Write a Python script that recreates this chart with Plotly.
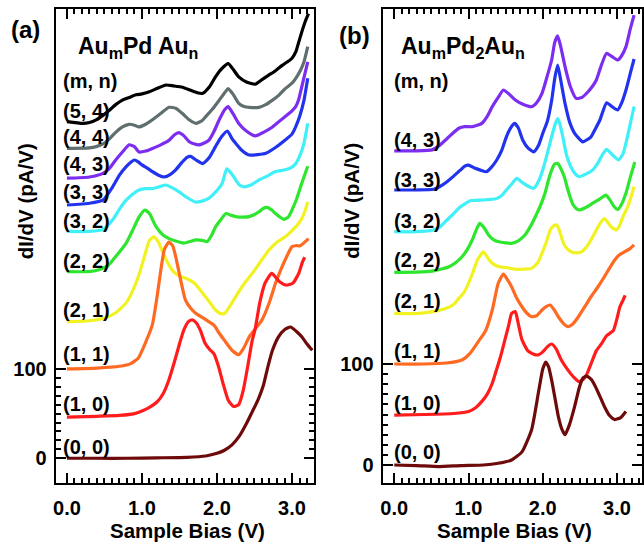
import plotly.graph_objects as go

W, H = 644, 544

# ---------------- Panel (a): Au_m Pd Au_n (stacked dI/dV spectra) ----------------
a_v_00 = [0, 0.4, 0.8, 1.2, 1.6, 1.85, 2.0, 2.1, 2.2, 2.3, 2.4, 2.47, 2.55, 2.62, 2.68, 2.74, 2.82, 2.9, 2.98, 3.06, 3.13, 3.2, 3.27]
a_y_00 = [0, 0, 0, 0.5, 1, 2.5, 5.5, 9, 15, 25, 40, 52, 66, 82, 103, 121, 136, 144, 147, 142, 136, 128, 121]

a_v_10 = [0, 0.4, 0.7, 0.9, 1.0, 1.1, 1.2, 1.28, 1.36, 1.44, 1.5, 1.56, 1.62, 1.67, 1.72, 1.78, 1.84, 1.9, 1.96, 2.02, 2.08, 2.15, 2.22, 2.29, 2.35, 2.41, 2.47, 2.51, 2.57, 2.64, 2.73, 2.83, 2.92, 3.01, 3.09, 3.14, 3.17]
a_y_10 = [46, 47, 48, 50, 53, 57, 63, 72, 88, 110, 128, 144, 153, 155, 152, 143, 129, 122, 117, 103, 84, 65, 58, 60, 76, 103, 132, 145, 174, 196, 207, 198, 194, 196, 207, 220, 225]

a_v_11 = [0, 0.4, 0.7, 0.85, 0.95, 1.05, 1.14, 1.2, 1.25, 1.3, 1.36, 1.41, 1.46, 1.52, 1.58, 1.65, 1.72, 1.8, 1.89, 1.96, 2.03, 2.1, 2.2, 2.29, 2.36, 2.43, 2.52, 2.6, 2.7, 2.78, 2.86, 2.93, 3.0, 3.05, 3.11, 3.17, 3.22]
a_y_11 = [100, 101, 103, 106, 112, 130, 150, 180, 210, 234, 242, 238, 222, 198, 177, 168, 162, 158, 153, 149, 140, 132, 121, 116, 124, 136, 146, 155, 175, 196, 213, 226, 237, 238, 238, 242, 246]

a_v_21 = [0, 0.3, 0.5, 0.65, 0.79, 0.9, 0.97, 1.04, 1.1, 1.16, 1.22, 1.28, 1.35, 1.42, 1.5, 1.6, 1.7, 1.8, 1.9, 1.98, 2.05, 2.1, 2.17, 2.25, 2.35, 2.47, 2.58, 2.69, 2.8, 2.91, 3.0, 3.06, 3.12, 3.17, 3.21]
a_y_21 = [153, 154, 157, 163, 174, 192, 208, 228, 244, 248, 242, 230, 218, 209, 204, 201, 196, 186, 175, 166, 162, 162, 170, 181, 194, 207, 220, 233, 242, 248, 255, 260, 267, 276, 287]

a_v_22 = [0, 0.3, 0.43, 0.55, 0.67, 0.79, 0.88, 0.96, 1.04, 1.1, 1.19, 1.28, 1.36, 1.46, 1.56, 1.65, 1.72, 1.8, 1.87, 1.93, 1.98, 2.05, 2.12, 2.19, 2.25, 2.34, 2.43, 2.5, 2.56, 2.62, 2.67, 2.73, 2.78, 2.84, 2.89, 2.95, 3.0, 3.06, 3.13, 3.18, 3.21]
a_y_22 = [209, 209, 211, 216, 228, 241, 256, 270, 278, 274, 259, 250, 246, 243, 241, 243, 244.5, 244, 242.6, 250, 259, 267, 274, 272, 270.6, 270, 270.6, 273, 276, 280, 281, 278, 274, 270, 267.6, 270, 278, 290, 308, 320, 327]

a_v_32 = [0, 0.3, 0.48, 0.61, 0.7, 0.79, 0.88, 0.96, 1.05, 1.14, 1.23, 1.32, 1.4, 1.49, 1.6, 1.71, 1.8, 1.89, 1.98, 2.07, 2.13, 2.2, 2.25, 2.3, 2.36, 2.45, 2.56, 2.67, 2.78, 2.91, 3.0, 3.05, 3.11, 3.16, 3.21]
a_y_32 = [254, 254, 256, 267, 279, 289, 296, 300.5, 302, 302, 304, 306, 303, 298.5, 292, 287, 288, 291, 298, 308, 324, 318, 311.6, 306, 304, 306, 311.6, 316, 321, 323, 326, 330, 340, 353, 375]

a_v_33 = [0, 0.3, 0.48, 0.61, 0.7, 0.79, 0.86, 0.9, 0.95, 1.0, 1.07, 1.14, 1.22, 1.3, 1.38, 1.45, 1.53, 1.6, 1.65, 1.72, 1.81, 1.9, 1.98, 2.06, 2.14, 2.2, 2.25, 2.33, 2.43, 2.54, 2.65, 2.78, 2.91, 3.0, 3.05, 3.11, 3.16, 3.21]
a_y_33 = [283.6, 285.6, 289, 304, 317, 326.5, 332, 334, 332, 328.5, 325, 321, 317, 315, 318, 323, 331, 337, 338, 334, 330, 337, 349, 360, 366.5, 358, 352.7, 345, 339.6, 340, 341.5, 348, 356.4, 363, 371.3, 385, 401, 425.5]

a_v_43 = [0, 0.3, 0.48, 0.57, 0.65, 0.74, 0.83, 0.9, 0.96, 1.05, 1.14, 1.25, 1.36, 1.43, 1.49, 1.56, 1.63, 1.7, 1.76, 1.83, 1.89, 1.96, 2.03, 2.1, 2.15, 2.22, 2.29, 2.4, 2.51, 2.62, 2.74, 2.84, 2.93, 3.0, 3.05, 3.09, 3.13, 3.17, 3.21]
a_y_43 = [313.6, 315, 319, 325, 334, 343, 351, 349, 343, 344, 347, 351, 356, 362, 364.6, 361, 354.5, 352, 351, 353, 356, 366, 379, 390, 393.7, 385, 375, 366, 361, 365, 371, 378, 384, 389, 393.7, 402, 416, 430, 444]

a_v_44 = [0, 0.3, 0.39, 0.48, 0.57, 0.65, 0.74, 0.83, 0.9, 0.96, 1.05, 1.14, 1.25, 1.36, 1.45, 1.54, 1.63, 1.72, 1.8, 1.85, 1.94, 2.03, 2.1, 2.15, 2.22, 2.29, 2.36, 2.43, 2.56, 2.65, 2.74, 2.83, 2.91, 3.0, 3.05, 3.11, 3.16, 3.21]
a_y_44 = [347, 347.5, 349, 352, 358, 365, 371, 374, 373, 371, 374, 379, 386, 393, 392, 386, 379, 375, 378, 382.5, 391, 401, 409, 414, 407, 397.5, 394, 393, 393, 396, 401, 407, 414, 420, 425.5, 434, 444, 461]

a_v_54 = [0, 0.21, 0.3, 0.39, 0.48, 0.57, 0.65, 0.74, 0.83, 0.92, 1.0, 1.1, 1.2, 1.32, 1.42, 1.54, 1.65, 1.75, 1.81, 1.9, 1.98, 2.06, 2.15, 2.22, 2.29, 2.4, 2.51, 2.6, 2.69, 2.78, 2.87, 2.94, 3.0, 3.05, 3.09, 3.14, 3.18, 3.22]
a_y_54 = [377, 375, 376, 379, 384, 390, 396, 401, 404, 407, 408, 410.5, 414, 418, 417, 415.5, 412, 409, 408.7, 416, 427, 436, 442, 435, 427, 421, 419, 424, 429, 434, 440, 444, 448, 455, 466, 480, 490, 498]

# ---------------- Panel (b): Au_m Pd2 Au_n ----------------
b_v_00 = [0, 0.3, 0.6, 0.9, 1.2, 1.4, 1.58, 1.72, 1.85, 1.94, 2.0, 2.04, 2.08, 2.12, 2.17, 2.21, 2.26, 2.3, 2.36, 2.43, 2.49, 2.54, 2.59, 2.65, 2.7, 2.77, 2.83, 2.9, 2.97, 3.05, 3.12]
b_y_00 = [0, -0.5, -1.5, -0.5, 0, 1.7, 5, 13, 35, 71, 95, 102, 97, 84, 64, 48, 35, 30, 40, 58, 76, 86, 88, 85, 79, 68, 58, 49, 45, 47, 53]

b_v_10 = [0, 0.4, 0.8, 1.0, 1.1, 1.18, 1.25, 1.32, 1.38, 1.43, 1.49, 1.54, 1.58, 1.63, 1.67, 1.72, 1.8, 1.87, 1.94, 2.0, 2.06, 2.12, 2.18, 2.25, 2.34, 2.43, 2.49, 2.55, 2.6, 2.66, 2.72, 2.79, 2.86, 2.95, 3.0, 3.04, 3.08, 3.11]
b_y_10 = [49.5, 50, 51, 53, 57, 63, 70, 81, 95, 107, 124, 138, 150, 152, 140, 124, 113, 110, 109, 112, 117, 119.8, 115, 104, 94, 86, 82.5, 85, 91, 102, 113, 120, 128, 133, 145, 157, 163, 168]

b_v_11 = [0, 0.4, 0.7, 0.91, 1.02, 1.13, 1.23, 1.32, 1.4, 1.47, 1.52, 1.58, 1.65, 1.72, 1.79, 1.85, 1.92, 1.99, 2.05, 2.1, 2.16, 2.21, 2.28, 2.34, 2.41, 2.48, 2.56, 2.65, 2.74, 2.83, 2.9, 2.97, 3.03, 3.1, 3.17, 3.23]
b_y_11 = [100, 100, 101, 104, 110.6, 122, 133, 153.5, 180, 189, 184, 176.5, 165, 156.7, 150, 146.8, 148, 153.5, 157, 158.4, 153, 146.8, 140, 137, 140, 146.8, 156, 166.6, 176, 186.4, 195, 203, 208, 211, 214, 218]

b_v_21 = [0, 0.3, 0.51, 0.69, 0.8, 0.87, 0.94, 1.0, 1.06, 1.12, 1.2, 1.26, 1.32, 1.38, 1.45, 1.55, 1.63, 1.75, 1.85, 1.93, 1.99, 2.05, 2.1, 2.15, 2.19, 2.23, 2.28, 2.33, 2.39, 2.46, 2.52, 2.58, 2.65, 2.71, 2.77, 2.83, 2.88, 2.92, 2.99, 3.04, 3.08, 3.14, 3.19, 3.23]
b_y_21 = [150, 150, 151.8, 155, 159, 165, 171, 180, 191, 203, 211, 205, 199.7, 197, 196, 195, 193.7, 194, 194.7, 200, 209.6, 221, 232.7, 237, 237.6, 231, 219.5, 214, 211, 210, 211, 215, 222.8, 231, 239, 244, 240, 236, 232.7, 238, 245.8, 255, 265.6, 275.5]

b_v_22 = [0, 0.3, 0.51, 0.73, 0.82, 0.91, 0.98, 1.05, 1.1, 1.15, 1.21, 1.27, 1.34, 1.41, 1.5, 1.58, 1.67, 1.76, 1.84, 1.9, 1.97, 2.03, 2.08, 2.12, 2.16, 2.2, 2.24, 2.29, 2.34, 2.4, 2.45, 2.49, 2.58, 2.67, 2.76, 2.85, 2.9, 2.96, 3.01, 3.06, 3.12, 3.18, 3.24]
b_y_22 = [190.8, 191, 192, 196, 200, 206, 213, 222.8, 232, 239.3, 235, 227.7, 223, 221, 220, 219.5, 222, 227.7, 237, 245.8, 257, 269, 283, 292, 298, 298.7, 294, 285.4, 272, 259, 254, 252.5, 255, 259, 263, 267.3, 263, 256, 253, 258, 269, 285, 300]

b_v_32 = [0, 0.3, 0.53, 0.62, 0.71, 0.8, 0.89, 0.96, 1.02, 1.1, 1.2, 1.3, 1.38, 1.45, 1.51, 1.58, 1.65, 1.72, 1.78, 1.88, 1.95, 2.0, 2.06, 2.12, 2.17, 2.2, 2.23, 2.27, 2.32, 2.38, 2.44, 2.49, 2.58, 2.67, 2.75, 2.81, 2.86, 2.94, 3.02, 3.08, 3.12, 3.19, 3.23]
b_y_32 = [231, 231, 232.7, 236, 242.6, 249, 255.7, 259, 261.7, 262, 262.4, 263, 264, 267, 272.3, 278, 283.8, 280, 277, 274, 282, 292, 308, 325, 338, 343, 338, 325, 307, 295, 288, 285.4, 288, 292, 300, 308, 312.6, 307, 302, 308, 318.5, 341.6, 355]

b_v_33 = [0, 0.3, 0.53, 0.62, 0.71, 0.8, 0.89, 0.95, 1.0, 1.08, 1.16, 1.24, 1.31, 1.38, 1.45, 1.51, 1.57, 1.62, 1.67, 1.73, 1.8, 1.88, 1.94, 2.0, 2.06, 2.12, 2.16, 2.2, 2.24, 2.3, 2.36, 2.43, 2.54, 2.65, 2.71, 2.77, 2.86, 2.93, 3.01, 3.06, 3.12, 3.18, 3.23]
b_y_33 = [272.3, 272.3, 273, 276, 280.5, 286, 292, 296, 297, 294, 292, 290.4, 295, 302, 312, 325, 334, 338.3, 334, 321.8, 314, 310, 316, 328.4, 340, 361, 382, 396, 382, 358, 340, 328.4, 320, 325, 333, 341.6, 358.7, 355, 351.5, 358, 371, 388, 402]

b_v_43 = [0, 0.3, 0.51, 0.6, 0.69, 0.78, 0.87, 0.95, 1.05, 1.18, 1.25, 1.32, 1.4, 1.47, 1.55, 1.63, 1.74, 1.85, 1.92, 1.99, 2.06, 2.12, 2.16, 2.2, 2.24, 2.3, 2.37, 2.45, 2.53, 2.61, 2.67, 2.72, 2.79, 2.86, 2.94, 3.01, 3.06, 3.12, 3.18, 3.23]
b_y_43 = [311, 311, 312, 316, 321.8, 328, 333.4, 335, 335, 338.3, 345, 354.8, 364, 371.3, 367, 361.4, 357, 354.8, 359, 368, 385, 401, 418, 424.8, 415, 394.4, 375, 363, 364, 369.6, 375, 381, 396, 407.6, 404, 401, 405, 414, 432, 445.5]

# Curve labels (m, n) and the y position (in pA/V) where each label sits
a_labels = ["(0, 0)", "(1, 0)", "(1, 1)", "(2, 1)", "(2, 2)", "(3, 2)", "(3, 3)", "(4, 3)", "(4, 4)", "(5, 4)", "(m, n)"]
a_label_y = [12.7, 61, 117, 166, 221, 265.8, 298.3, 329.6, 360, 389, 422.5]
b_labels = ["(0, 0)", "(1, 0)", "(1, 1)", "(2, 1)", "(2, 2)", "(3, 2)", "(3, 3)", "(4, 3)", "(m, n)"]
b_label_y = [12.9, 61.4, 113, 162.4, 203, 241.6, 282, 321.8, 380]

x_tick_vals = [0, 1, 2, 3]
x_tick_text = ["0.0", "1.0", "2.0", "3.0"]
y_tick_vals = [0, 100]
y_tick_text = ["0", "100"]

COLORS = {
    "(0, 0)": "#6e0a0a",
    "(1, 0)": "#ff1c1c",
    "(1, 1)": "#ff6a22",
    "(2, 1)": "#f2f222",
    "(2, 2)": "#2ee62e",
    "(3, 2)": "#40f0f8",
    "(3, 3)": "#2233ee",
    "(4, 3)": "#7d2df0",
    "(4, 4)": "#5f6e6e",
    "(5, 4)": "#000000",
}

a_curves = [("(0, 0)", a_v_00, a_y_00), ("(1, 0)", a_v_10, a_y_10), ("(1, 1)", a_v_11, a_y_11),
            ("(2, 1)", a_v_21, a_y_21), ("(2, 2)", a_v_22, a_y_22), ("(3, 2)", a_v_32, a_y_32),
            ("(3, 3)", a_v_33, a_y_33), ("(4, 3)", a_v_43, a_y_43), ("(4, 4)", a_v_44, a_y_44),
            ("(5, 4)", a_v_54, a_y_54)]
b_curves = [("(0, 0)", b_v_00, b_y_00), ("(1, 0)", b_v_10, b_y_10), ("(1, 1)", b_v_11, b_y_11),
            ("(2, 1)", b_v_21, b_y_21), ("(2, 2)", b_v_22, b_y_22), ("(3, 2)", b_v_32, b_y_32),
            ("(3, 3)", b_v_33, b_y_33), ("(4, 3)", b_v_43, b_y_43)]

FONT = "Liberation Sans, Arial, Helvetica, sans-serif"

fig = go.Figure()

# upper curves first so lower spectra are drawn on top where they cross
for xa, ya, curves in (("x", "y", a_curves), ("x2", "y2", b_curves)):
    for name, v, y in reversed(curves):
        fig.add_trace(go.Scatter(
            x=v, y=y, xaxis=xa, yaxis=ya, mode="lines", name=name,
            line=dict(color=COLORS[name], width=3.2, shape="spline", smoothing=0.5),
            showlegend=False, hoverinfo="skip"))


def px_x(p):
    return p / W


def px_y(p):
    return 1 - p / H


def x_axis(domain, rng, minor_max):
    minor_vals = [round(i * 0.1, 1) for i in range(1, int(round(minor_max * 10)) + 1) if i % 10 != 0]
    return dict(
        domain=domain, range=rng, showgrid=False, zeroline=False,
        showline=True, linecolor="black", linewidth=2, mirror="ticks",
        ticks="inside", ticklen=10, tickwidth=2, tickcolor="black",
        tickvals=x_tick_vals, ticktext=x_tick_text, ticklabelstandoff=6,
        tickfont=dict(family=FONT, size=20, color="black", weight="bold"),
        minor=dict(tickvals=minor_vals, ticks="inside", ticklen=5, tickwidth=1.5, tickcolor="black"),
        fixedrange=True,
    )


def y_axis(domain, rng, anchor):
    return dict(
        domain=domain, range=rng, anchor=anchor, showgrid=False, zeroline=False,
        showline=True, linecolor="black", linewidth=2, mirror="ticks",
        ticks="inside", ticklen=10, tickwidth=2, tickcolor="black",
        tickvals=y_tick_vals, ticktext=y_tick_text, ticklabelstandoff=3,
        tickfont=dict(family=FONT, size=20, color="black", weight="bold"),
        minor=dict(tickvals=list(range(10, 100, 10)), ticks="inside", ticklen=5, tickwidth=1.5, tickcolor="black"),
        fixedrange=True,
    )


y_dom = [px_y(483), px_y(9)]
fig.update_layout(
    width=W, height=H, margin=dict(l=0, r=0, t=0, b=0),
    paper_bgcolor="white", plot_bgcolor="white",
    xaxis=dict(x_axis([px_x(53), px_x(313)], [-0.15, 3.294], 3.2), anchor="y"),
    yaxis=y_axis(y_dom, [-27.7, 503.1], "x"),
    xaxis2=dict(x_axis([px_x(382), px_x(643)], [-0.157, 3.337], 3.3), anchor="y2"),
    yaxis2=y_axis(y_dom, [-17.8, 451.5], "x2"),
)

ann = []
lab_font = dict(family=FONT, size=20, color="black", weight="bold")
for text, yv in zip(a_labels, a_label_y):
    ann.append(dict(x=-0.08, y=yv, xref="x", yref="y", text=text, showarrow=False,
                    xanchor="left", yanchor="middle", font=lab_font))
for text, yv in zip(b_labels, b_label_y):
    ann.append(dict(x=-0.035, y=yv, xref="x2", yref="y2", text=text, showarrow=False,
                    xanchor="left", yanchor="middle", font=lab_font))

big = dict(family=FONT, size=24, color="black", weight="bold")
head = dict(family=FONT, size=23, color="black", weight="bold")
ann += [
    dict(x=px_x(23), y=px_y(29), xref="paper", yref="paper", text="(a)", showarrow=False,
         xanchor="center", yanchor="middle", font=big),
    dict(x=px_x(354), y=px_y(35), xref="paper", yref="paper", text="(b)", showarrow=False,
         xanchor="center", yanchor="middle", font=big),
    dict(x=px_x(73), y=px_y(47), xref="paper", yref="paper", text="Au<sub>m</sub>Pd Au<sub>n</sub>",
         showarrow=False, xanchor="left", yanchor="middle", font=head),
    dict(x=px_x(398), y=px_y(47), xref="paper", yref="paper", text="Au<sub>m</sub>Pd<sub>2</sub>Au<sub>n</sub>",
         showarrow=False, xanchor="left", yanchor="middle", font=head),
]

title_font = dict(family=FONT, size=20.5, color="black", weight="bold")
for cx in (185.5, 514.5):
    ann.append(dict(x=px_x(cx), y=px_y(530), xref="paper", yref="paper", text="Sample Bias (V)",
                    showarrow=False, xanchor="center", yanchor="middle", font=title_font))
for cx in (22.5, 350):
    ann.append(dict(x=px_x(cx), y=px_y(201), xref="paper", yref="paper", text="dI/dV (pA/V)",
                    showarrow=False, xanchor="center", yanchor="middle", textangle=-90, font=title_font))

fig.update_layout(annotations=ann)
fig.write_html("out.html")
